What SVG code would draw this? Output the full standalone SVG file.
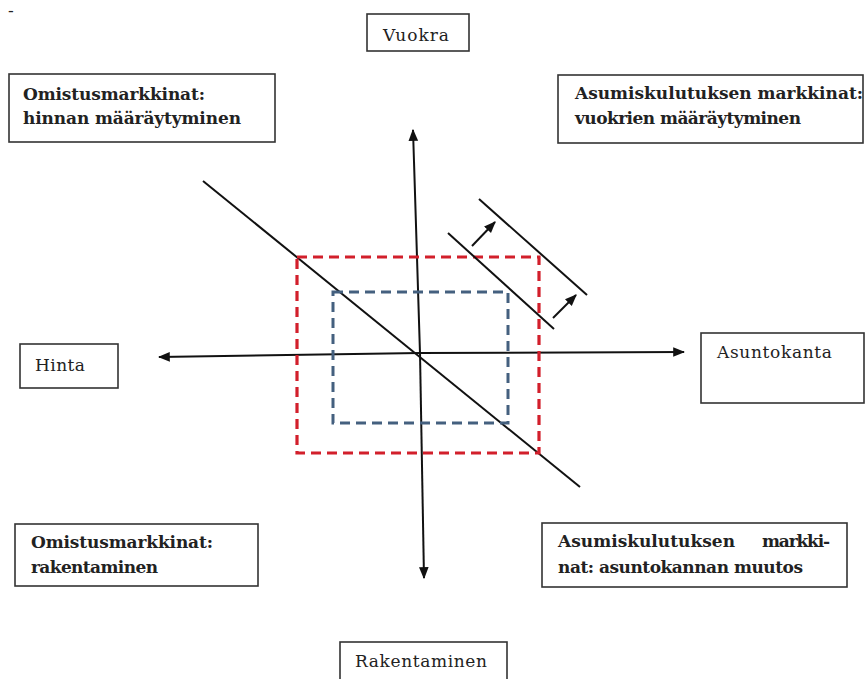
<svg xmlns="http://www.w3.org/2000/svg" width="865" height="679" viewBox="0 0 865 679">
<style>
.box{fill:#fff;stroke:#333;stroke-width:1.6}
.t{font-family:"DejaVu Serif","Liberation Serif",serif;font-size:17px;fill:#222}
.b{font-weight:bold}
.ax{stroke:#111;stroke-width:2;fill:none}
.ln{stroke:#111;stroke-width:2;fill:none}
</style>
<defs>
<marker id="ah2" viewBox="0 0 10 10" refX="9" refY="5" markerWidth="12" markerHeight="12" markerUnits="userSpaceOnUse" orient="auto">
<path d="M0,1 L10,5 L0,9 Z" fill="#111"/>
</marker>
</defs>
<rect width="865" height="679" fill="#fff"/>
<text class="t" x="8" y="16" font-size="14">-</text>

<g id="connectors">
<line class="ax" x1="420" y1="353" x2="413" y2="130" marker-end="url(#ah2)"/>
<line class="ax" x1="420" y1="353" x2="424" y2="578" marker-end="url(#ah2)"/>
<line class="ax" x1="420" y1="353" x2="159" y2="357" marker-end="url(#ah2)"/>
<line class="ax" x1="420" y1="353" x2="684" y2="352" marker-end="url(#ah2)"/>
<line class="ln" x1="203" y1="181" x2="580" y2="487"/>
<rect x="297" y="257" width="242" height="196" fill="none" stroke="#d21f2b" stroke-width="3.2" stroke-dasharray="10,6"/>
<rect x="333" y="292" width="175" height="131" fill="none" stroke="#44607f" stroke-width="3" stroke-dasharray="10,6"/>
<line class="ln" x1="448" y1="233" x2="554" y2="329"/>
<line class="ln" x1="479" y1="199" x2="587" y2="295"/>
<line class="ln" x1="472" y1="246" x2="495" y2="222" marker-end="url(#ah2)"/>
<line class="ln" x1="553" y1="318" x2="576" y2="295" marker-end="url(#ah2)"/>
</g>

<g id="vuokra">
<rect class="box" x="367" y="14" width="102" height="37"/>
<text class="t" x="383" y="41" textLength="66">Vuokra</text>
</g>
<g id="omistus-hinta">
<rect class="box" x="9" y="74" width="266" height="68"/>
<text class="t b" x="23" y="100" textLength="182">Omistusmarkkinat:</text>
<text class="t b" x="23" y="124" textLength="218">hinnan määräytyminen</text>
</g>
<g id="asumis-vuokra">
<rect class="box" x="558" y="75" width="305" height="68"/>
<text class="t b" x="575" y="99" textLength="288">Asumiskulutuksen markkinat:</text>
<text class="t b" x="575" y="124" textLength="226">vuokrien määräytyminen</text>
</g>
<g id="hinta">
<rect class="box" x="20" y="344" width="98" height="44"/>
<text class="t" x="35" y="371" textLength="50">Hinta</text>
</g>
<g id="asuntokanta">
<rect class="box" x="701" y="333" width="163" height="70"/>
<text class="t" x="717" y="358" textLength="115">Asuntokanta</text>
</g>
<g id="omistus-rakent">
<rect class="box" x="15" y="524" width="243" height="62"/>
<text class="t b" x="31" y="548" textLength="182">Omistusmarkkinat:</text>
<text class="t b" x="31" y="573" textLength="127">rakentaminen</text>
</g>
<g id="asumis-kanta">
<rect class="box" x="542" y="523" width="305" height="64"/>
<text class="t b" x="558" y="547" textLength="177">Asumiskulutuksen</text>
<text class="t b" x="762" y="547" textLength="68">markki-</text>
<text class="t b" x="558" y="573" textLength="245">nat: asuntokannan muutos</text>
</g>
<g id="rakentaminen">
<rect class="box" x="340" y="642" width="167" height="45"/>
<text class="t" x="355" y="667" textLength="132">Rakentaminen</text>
</g>
</svg>
